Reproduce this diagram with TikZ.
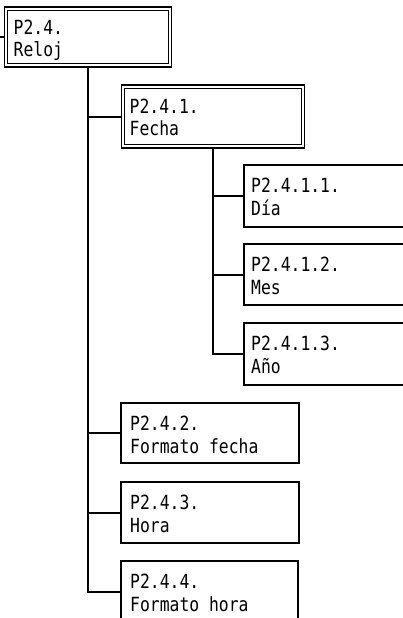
\documentclass[tikz,border=0pt]{standalone}
\usepackage{fontspec}
\newfontfamily\monof[FakeStretch=0.84]{DejaVu Sans Mono}
\newcommand\lblfont{\fontsize{19.5pt}{22.5pt}\selectfont\monof}
\usetikzlibrary{calc,backgrounds}
\tikzset{
  box/.style={draw, line width=1.4pt, rectangle, inner sep=0pt, outer sep=0pt, anchor=north west},
  dbox/.style={draw, line width=1.2pt, double, double distance=2.1pt, rectangle, inner sep=0pt, outer sep=0pt, anchor=north west},
  lbl/.style={font=\lblfont, align=left, inner sep=0pt, anchor=north west},
  conn/.style={line width=2pt}
}
\begin{document}
\begin{tikzpicture}[x=1pt,y=-1pt]
\useasboundingbox (0,0) rectangle (403,618);
\clip (0,0) rectangle (403,618);
% boxes
\node[dbox, minimum width=163.8pt, minimum height=56.8pt] (A) at (6.1,8.6) {};
\node[dbox, minimum width=179.8pt, minimum height=59.8pt] (B) at (123.1,86.6) {};
\node[box, minimum width=170pt, minimum height=62pt] (C1) at (244,165) {};
\node[box, minimum width=170pt, minimum height=61pt] (C2) at (244,244) {};
\node[box, minimum width=170pt, minimum height=62pt] (C3) at (244,323) {};
\node[box, minimum width=178pt, minimum height=60pt] (D2) at (121,403) {};
\node[box, minimum width=178pt, minimum height=61pt] (D3) at (121,482) {};
\node[box, minimum width=177pt, minimum height=61pt] (D4) at (121,561) {};
% labels
\node[lbl] at ($(A.north west)+(7.4,11.0)$) {P2.4.\\Reloj};
\node[lbl] at ($(B.north west)+(6.4,12.0)$) {P2.4.1.\\Fecha};
\node[lbl] at ($(C1.north west)+(7,13.2)$) {P2.4.1.1.\\Día};
\node[lbl] at ($(C2.north west)+(7,13.2)$) {P2.4.1.2.\\Mes};
\node[lbl] at ($(C3.north west)+(7,13.2)$) {P2.4.1.3.\\Año};
\node[lbl] at ($(D2.north west)+(9,13.2)$) {P2.4.2.\\Formato fecha};
\node[lbl] at ($(D3.north west)+(9,13.2)$) {P2.4.3.\\Hora};
\node[lbl] at ($(D4.north west)+(9,13.2)$) {P2.4.4.\\Formato hora};
% connectors
\coordinate (s) at (0,37);
\begin{scope}[on background layer]
\draw[conn] (s) -- (A.west);
\draw[conn] (A.south) |- (B.west);
\draw[conn] (A.south) |- (D2.west);
\draw[conn] (A.south) |- (D3.west);
\draw[conn] (A.south) |- (D4.west);
\draw[conn] (B.south) |- (C1.west);
\draw[conn] (B.south) |- (C2.west);
\draw[conn] (B.south) |- (C3.west);
\end{scope}
\end{tikzpicture}
\end{document}
